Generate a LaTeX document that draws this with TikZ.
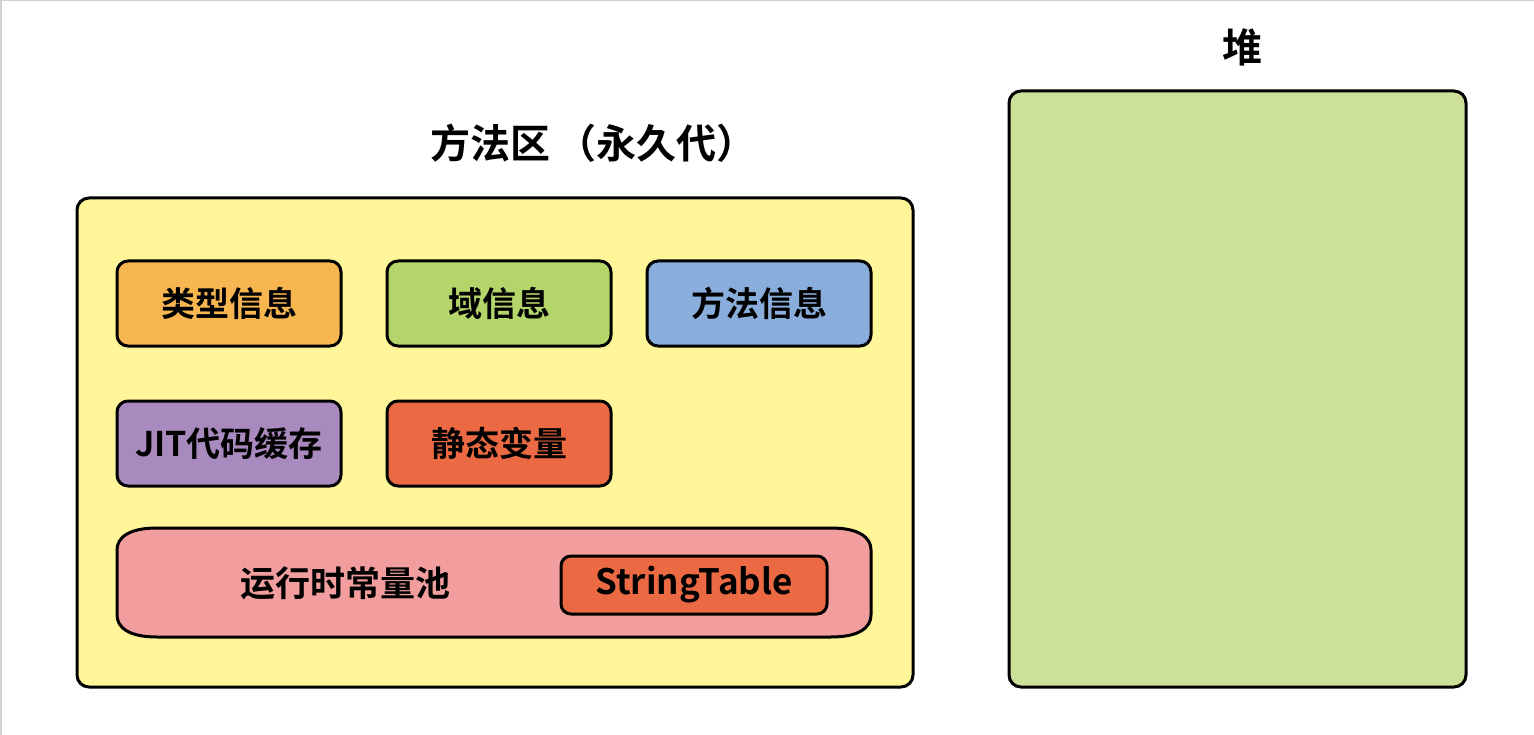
\documentclass[tikz,border=0pt]{standalone}
\usepackage{fontspec}
\newfontfamily\cjk{Noto Sans CJK SC}[BoldFont={* Bold}]
\definecolor{areaY}{HTML}{FFF599}
\definecolor{heapG}{HTML}{CDE09A}
\definecolor{boxO}{HTML}{F8B651}
\definecolor{boxG}{HTML}{B3D56A}
\definecolor{boxB}{HTML}{8AAEDB}
\definecolor{boxP}{HTML}{A98ABE}
\definecolor{boxR}{HTML}{EC6A43}
\definecolor{poolP}{HTML}{F29E9E}
\tikzset{
  frame/.style={draw=black, line width=3pt, rounded corners=12pt},
  infobox/.style={draw=black, line width=3pt, rounded corners=11pt, minimum width=224pt, minimum height=85pt, inner sep=0pt, font=\cjk\bfseries\fontsize{34}{40}\selectfont},
  title/.style={font=\cjk\bfseries\fontsize{40}{46}\selectfont, inner sep=0pt},
}
\begin{document}
\begin{tikzpicture}[x=1pt,y=-1pt]
\useasboundingbox (0,0) rectangle (1534,735);
\fill[white] (0,0) rectangle (1534,735);
\draw[black!18, line width=1.5pt] (0.75,735) -- (0.75,0.75) -- (1534,0.75);
% method area
\draw[frame, fill=areaY] (77,198) rectangle (913,687);
\node[title] (mtitle) at (593,143) {方法区\kern6pt（永久代）};
% heap
\draw[frame, fill=heapG] (1009,91) rectangle (1466,687);
\node[title] (htitle) at (1242,47) {堆};
% info boxes
\node[infobox, fill=boxO] (type) at (229,303.5) {类型信息};
\node[infobox, fill=boxG] (field) at (499,303.5) {域信息};
\node[infobox, fill=boxB] (method) at (759,303.5) {方法信息};
\node[infobox, fill=boxP] (jit) at (229,443.5) {JIT代码缓存};
\node[infobox, fill=boxR] (static) at (499,443.5) {静态变量};
% runtime constant pool
\draw[black, line width=3pt, fill=poolP]
  (157,528) -- (831,528)
  .. controls (860,528) and (871,538) .. (871,550)
  -- (871,615)
  .. controls (871,627) and (860,637) .. (831,637)
  -- (157,637)
  .. controls (128,637) and (117,627) .. (117,615)
  -- (117,550)
  .. controls (117,538) and (128,528) .. (157,528) -- cycle;
\node[font=\cjk\bfseries\fontsize{35}{40}\selectfont, inner sep=0pt] (pool) at (345,583) {运行时常量池};
\node[infobox, fill=boxR, minimum width=266pt, minimum height=58pt, rounded corners=10pt, font=\cjk\bfseries\fontsize{35}{40}\selectfont] (st) at (694,585) {StringTable};
\end{tikzpicture}
\end{document}
